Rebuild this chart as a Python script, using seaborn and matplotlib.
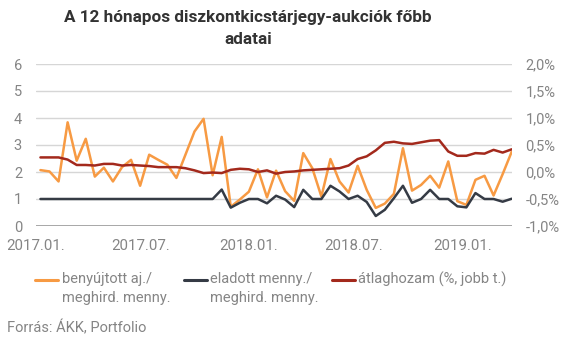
import matplotlib
matplotlib.use("Agg")
import matplotlib.pyplot as plt
from matplotlib.lines import Line2D
import seaborn as sns
import numpy as np
import pandas as pd

# ---- data ----
benyujtott = [2.07, 2.02, 1.65, 3.84, 2.42, 3.23, 1.83, 2.16, 1.65, 2.18,
              2.45, 1.49, 2.64, 2.45, 2.27, 1.78, 2.64, 3.50, 3.97, 1.88,
              3.30, 0.71, 0.98, 1.27, 2.10, 1.06, 2.05, 1.29, 0.93, 2.70,
              2.14, 1.09, 2.48, 1.65, 1.24, 2.23, 1.34, 0.67, 0.83, 1.19,
              2.88, 1.31, 1.52, 1.86, 1.42, 2.39, 0.92, 0.78, 1.71, 1.86,
              1.13, 1.92, 2.75]
eladott = [1.00, 1.00, 1.00, 1.00, 1.00, 1.00, 1.00, 1.00, 1.00, 1.00,
           1.00, 1.00, 1.00, 1.00, 1.00, 1.00, 1.00, 1.00, 1.00, 1.00,
           1.35, 0.68, 0.86, 1.00, 1.00, 0.84, 1.12, 0.98, 0.70, 1.34,
           1.00, 1.00, 1.49, 1.28, 1.00, 1.12, 0.89, 0.37, 0.60, 1.03,
           1.49, 0.86, 1.00, 1.34, 1.00, 1.00, 0.73, 0.69, 1.22, 1.00,
           1.00, 0.90, 1.01]
atlaghozam = [0.27, 0.27, 0.27, 0.23, 0.13, 0.13, 0.12, 0.15, 0.15, 0.12,
              0.13, 0.12, 0.11, 0.09, 0.09, 0.09, 0.07, 0.03, -0.02, -0.01,
              -0.02, 0.04, 0.06, 0.05, 0.00, 0.03, -0.03, 0.00, 0.01, 0.03,
              0.04, 0.05, 0.06, 0.07, 0.12, 0.24, 0.29, 0.40, 0.54, 0.56,
              0.53, 0.52, 0.55, 0.58, 0.59, 0.38, 0.30, 0.30, 0.35, 0.34,
              0.41, 0.36, 0.42]
tick_labels = ["2017.01.", "2017.07.", "2018.01.", "2018.07.", "2019.01."]
series_labels = ["benyújtott aj./\nmeghird. menny.",
                 "eladott menny./\nmeghird. menny.",
                 "átlaghozam (%, jobb t.)"]
left_ticks = [0, 1, 2, 3, 4, 5, 6]
right_ticks = [-1.0, -0.5, 0.0, 0.5, 1.0, 1.5, 2.0]
title = "A 12 hónapos diszkontkicstárjegy-aukciók főbb\nadatai"
source = "Forrás: ÁKK, Portfolio"

# ---- style ----
ORANGE = "#f79a43"
DARK = "#353b45"
RED = "#a3291c"
GRAY_TXT = "#858585"
GRID = "#d6d6d6"
LW = 1.8

sns.set_theme(style="white")
plt.rcParams['font.family'] = ['Roboto', 'DejaVu Sans']

W, H = 578, 339
fig = plt.figure(figsize=(W / 100, H / 100), dpi=100)
x0, x1, ytop, ybot = 36, 511.7, 64, 226
ax = fig.add_axes([x0 / W, 1 - ybot / H, (x1 - x0) / W, (ybot - ytop) / H])

n = len(benyujtott)
df = pd.DataFrame({
    "idx": np.arange(n),
    "ben": benyujtott,
    "ela": eladott,
    "atl": atlaghozam,
})

sns.lineplot(data=df, x="idx", y="ben", ax=ax, color=ORANGE, lw=LW,
             legend=False)
sns.lineplot(data=df, x="idx", y="ela", ax=ax, color=DARK, lw=LW,
             legend=False)
ax2 = ax.twinx()
sns.lineplot(data=df, x="idx", y="atl", ax=ax2, color=RED, lw=LW,
             legend=False)

ax.set_xlim(-0.16, n - 1)
ax.set_ylim(0, 6)
ax2.set_ylim(-1, 2)

ax.set_yticks(left_ticks)
ax.set_yticklabels([str(v) for v in left_ticks])
ax2.set_yticks(right_ticks)
ax2.set_yticklabels([f"{v:.1f}%".replace(".", ",") for v in right_ticks])

tick_pos = [-0.49, 11.1, 22.97, 34.6, 46.55]
ax.set_xticks(tick_pos)
ax.set_xticklabels(tick_labels)

ax.set_xlabel("")
ax.set_ylabel("")
ax2.set_ylabel("")

ax.yaxis.grid(True, color=GRID, lw=1)
ax.set_axisbelow(True)
for a in (ax, ax2):
    for s in ("top", "right", "left", "bottom"):
        a.spines[s].set_visible(False)
ax.axhline(0, color="#9a9a9a", lw=1.2, zorder=1)

ax.tick_params(axis="y", length=0, pad=10, labelcolor=GRAY_TXT, labelsize=10.5)
ax.tick_params(axis="x", length=0, pad=9, labelcolor=GRAY_TXT, labelsize=10.8)
ax2.tick_params(axis="y", length=0, pad=10, labelcolor=GRAY_TXT, labelsize=10.5)

fig.text(248 / W, 1 - 10 / H, title, ha="center", va="top", fontsize=12.3,
         fontweight="bold", color="#333333", linespacing=1.55)

# legend (handles aligned with first text line, as in the reference)
leg_items = [(35, 62, ORANGE, series_labels[0]),
             (184, 210.5, DARK, series_labels[1]),
             (332, 358, RED, series_labels[2])]
for hx, tx, col, lab in leg_items:
    fig.add_artist(Line2D([hx / W, (hx + 23) / W], [1 - 280 / H, 1 - 280 / H],
                          transform=fig.transFigure, color=col, lw=2.2))
    fig.text(tx / W, 1 - 272 / H, lab, ha="left", va="top", fontsize=10.5,
             color=GRAY_TXT, linespacing=1.45)

fig.text(7 / W, 1 - 327.5 / H, source, ha="left", va="center", fontsize=10.5,
         color=GRAY_TXT)

fig.savefig("out.png", dpi=100)
